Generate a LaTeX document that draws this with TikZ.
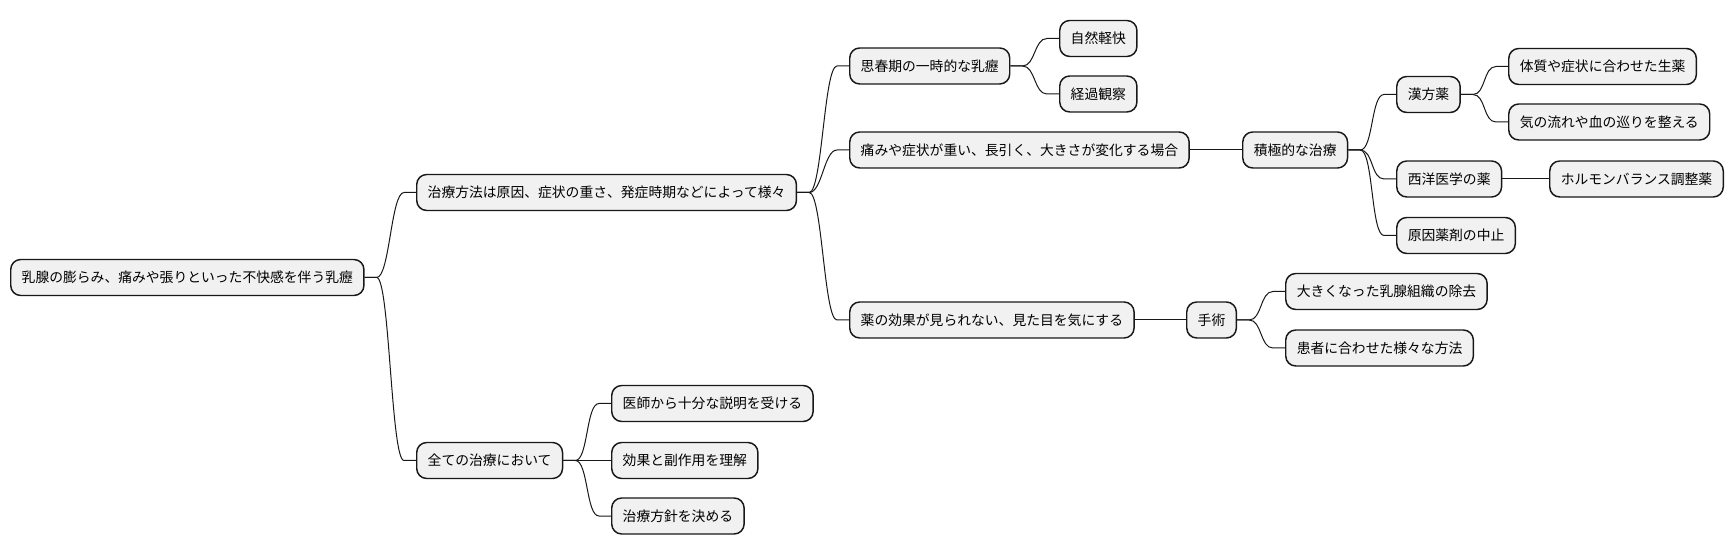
\documentclass[tikz,border=0pt]{standalone}
\usepackage{fontspec}
\setmainfont{Noto Sans CJK JP}
\usetikzlibrary{calc}
\definecolor{boxfill}{HTML}{F1F1F1}
\definecolor{boxline}{HTML}{181818}
\tikzset{
  mm/.style={draw=boxline, fill=boxfill, line width=1.1pt, rounded corners=7.5pt,
    anchor=west, minimum height=27pt, inner xsep=8.25pt, inner ysep=0pt,
    font=\fontsize{10.35pt}{12pt}\selectfont, text=black},
  conn/.style={draw=boxline, line width=0.75pt}
}
\newcommand\mmconn[2]{\draw[conn] (#1.east) -- ++(12,0) .. controls +(13,0) and +(-13,0) .. ($(#2.west)+(-12,0)$) -- (#2.west);}
\newcommand\mmline[2]{\draw[conn] (#1.east) -- (#2.west);}
\begin{document}
\begin{tikzpicture}[x=0.75pt,y=-0.75pt]
\useasboundingbox (0,0) rectangle (1734,555);
\node[mm] (root) at (10,277.5) {乳腺の膨らみ、痛みや張りといった不快感を伴う乳癧};
\node[mm] (A) at (416,192.5) {治療方法は原因、症状の重さ、発症時期などによって様々};
\node[mm] (B) at (416,460.5) {全ての治療において};
\node[mm] (A1) at (849,66) {思春期の一時的な乳癧};
\node[mm] (A1a) at (1059,38.5) {自然軽快};
\node[mm] (A1b) at (1059,94) {経過観察};
\node[mm] (A2) at (849,150) {痛みや症状が重い、長引く、大きさが変化する場合};
\node[mm] (A2a) at (1242,150) {積極的な治療};
\node[mm] (K) at (1396,94.5) {漢方薬};
\node[mm] (K1) at (1508,66.5) {体質や症状に合わせた生薬};
\node[mm] (K2) at (1508,122) {気の流れや血の巡りを整える};
\node[mm] (W) at (1396,179) {西洋医学の薬};
\node[mm] (W1) at (1549,179) {ホルモンバランス調整薬};
\node[mm] (G) at (1396,235.5) {原因薬剤の中止};
\node[mm] (A3) at (849,320) {薬の効果が見られない、見た目を気にする};
\node[mm] (S) at (1186,320) {手術};
\node[mm] (S1) at (1285,291.5) {大きくなった乳腺組織の除去};
\node[mm] (S2) at (1285,348) {患者に合わせた様々な方法};
\node[mm] (B1) at (611,403.5) {医師から十分な説明を受ける};
\node[mm] (B2) at (611,460.5) {効果と副作用を理解};
\node[mm] (B3) at (611,516) {治療方針を決める};
\mmconn{root}{A}
\mmconn{root}{B}
\mmconn{A}{A1}
\mmconn{A}{A2}
\mmconn{A}{A3}
\mmconn{A1}{A1a}
\mmconn{A1}{A1b}
\mmline{A2}{A2a}
\mmconn{A2a}{K}
\mmconn{A2a}{W}
\mmconn{A2a}{G}
\mmconn{K}{K1}
\mmconn{K}{K2}
\mmline{W}{W1}
\mmline{A3}{S}
\mmconn{S}{S1}
\mmconn{S}{S2}
\mmconn{B}{B1}
\mmline{B}{B2}
\mmconn{B}{B3}
\end{tikzpicture}
\end{document}
